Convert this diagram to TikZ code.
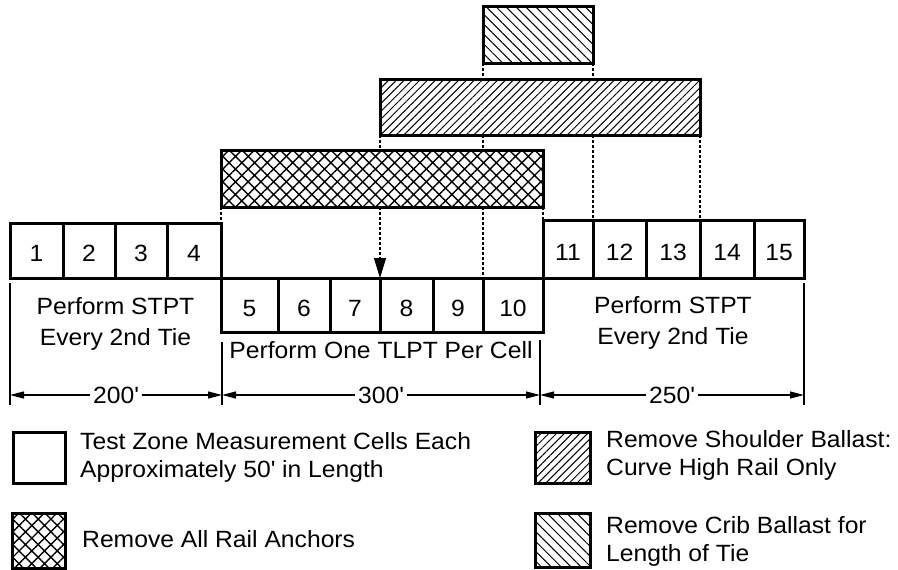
\documentclass[tikz,border=0pt]{standalone}
\usepackage{fontspec}
\setmainfont{Liberation Sans}[FakeStretch=1.05]
\usetikzlibrary{arrows.meta,positioning,patterns.meta}
\newcommand{\feet}{\textquotesingle}

\begin{document}
\begin{tikzpicture}[
  x=1pt, y=-1pt,
  font=\fontsize{23.5pt}{31pt}\selectfont,
  cell/.style={draw, line width=3pt, inner sep=0pt, outer sep=0pt, text height=22pt, text depth=0pt},
  zone/.style={draw, line width=3pt, inner sep=0pt, outer sep=0pt},
  shoulderfill/.style={pattern={Lines[angle=45,distance=5.5pt,line width=1pt]}},
  cribfill/.style={pattern={Lines[angle=-45,distance=7pt,line width=1pt]}},
  anchorfill/.style={pattern={Hatch[angle=45,distance=9pt,line width=1.4pt]}},
  guide/.style={line width=1.2pt, dash pattern=on 3pt off 2pt},
  ext/.style={line width=1.2pt},
  dim/.style={line width=1.2pt, {Triangle[length=14pt,width=7pt]}-{Triangle[length=14pt,width=7pt]}},
  dimlbl/.style={fill=white, inner sep=3pt},
  key/.style={anchor=west, align=left, inner sep=0pt, font=\fontsize{23.5pt}{28pt}\selectfont}
]
\useasboundingbox (0,0) rectangle (898,570);

% removal zones
\node[zone, cribfill, minimum width=110pt, minimum height=57pt] (crib) at (538,34.5) {};
\node[zone, shoulderfill, minimum width=320pt, minimum height=56pt] (shoulder) at (540,107) {};
\node[zone, anchorfill, minimum width=322pt, minimum height=57pt] (anchors) at (382,178.5) {};

% measurement cells
\node[cell, minimum width=53pt, minimum height=55pt] (c1) at (36.5,250.5) {1};
\node[cell, minimum width=52pt, minimum height=55pt, right=0pt of c1] (c2) {2};
\node[cell, minimum width=52pt, minimum height=55pt, right=0pt of c2] (c3) {3};
\node[cell, minimum width=54pt, minimum height=55pt, right=0pt of c3] (c4) {4};

\node[cell, minimum width=57pt, minimum height=54pt] (c5) at (249.5,305) {5};
\node[cell, minimum width=52pt, minimum height=54pt, right=0pt of c5] (c6) {6};
\node[cell, minimum width=50pt, minimum height=54pt, right=0pt of c6] (c7) {7};
\node[cell, minimum width=53pt, minimum height=54pt, right=0pt of c7] (c8) {8};
\node[cell, minimum width=50pt, minimum height=54pt, right=0pt of c8] (c9) {9};
\node[cell, minimum width=60pt, minimum height=54pt, right=0pt of c9] (c10) {10};

\node[cell, minimum width=50pt, minimum height=58pt] (c11) at (568,249) {11};
\node[cell, minimum width=53pt, minimum height=58pt, right=0pt of c11] (c12) {12};
\node[cell, minimum width=54pt, minimum height=58pt, right=0pt of c12] (c13) {13};
\node[cell, minimum width=54pt, minimum height=58pt, right=0pt of c13] (c14) {14};
\node[cell, minimum width=50pt, minimum height=58pt, right=0pt of c14] (c15) {15};

% projection lines
\draw[guide] (crib.south west) -- (crib.south west |- shoulder.north);
\draw[guide] (crib.south east) -- (crib.south east |- shoulder.north);
\draw[guide] (shoulder.south west) -- (shoulder.south west |- anchors.north);
\draw[guide] (crib.south west |- shoulder.south) -- (crib.south west |- anchors.north);
\draw[guide] (crib.south east |- shoulder.south) -- (c12.north west);
\draw[guide] (shoulder.south east) -- (c14.north west);
\draw[guide] (anchors.south west) -- (c4.north east);
\draw[guide] (anchors.south east) -- (c11.north west);
\draw[guide] (crib.south west |- anchors.south) -- (c10.north west);
\draw[guide, -{Triangle[length=20pt,width=12pt]}] (shoulder.south west |- anchors.south) -- (c8.north west);

% test descriptions
\node[align=center] (stptl) at (115.5,324) {Perform STPT\\Every 2nd Tie};
\node[align=center] (stptr) at (673,323) {Perform STPT\\Every 2nd Tie};
\node (tlpt) at (381,350.5) {Perform One TLPT Per Cell};

% dimensions
\coordinate (e0t) at (10,283);  \coordinate (e0b) at (10,405);
\coordinate (e1t) at (222,342); \coordinate (e1b) at (222,405);
\coordinate (e2t) at (540,340); \coordinate (e2b) at (540,405);
\coordinate (e3t) at (804,283); \coordinate (e3b) at (804,405);
\draw[ext] (e0t) -- (e0b);
\draw[ext] (e1t) -- (e1b);
\draw[ext] (e2t) -- (e2b);
\draw[ext] (e3t) -- (e3b);
\coordinate (m0) at (10,395);
\coordinate (m1) at (222,395);
\coordinate (m2) at (540,395);
\coordinate (m3) at (804,395);
\draw[dim] (m0) -- node[dimlbl] (len1) {200\feet} (m1);
\draw[dim] (m1) -- node[dimlbl] (len2) {300\feet} (m2);
\draw[dim] (m2) -- node[dimlbl] (len3) {250\feet} (m3);

% legend
\node[zone, minimum width=52pt, minimum height=51pt] (kcell) at (39,457.5) {};
\node[key] (kcelltxt) at (80,457) {Test Zone Measurement Cells Each\\Approximately 50\feet{} in Length};
\node[zone, anchorfill, minimum width=53pt, minimum height=55pt] (kanchor) at (38.5,540.5) {};
\node[key] (kanchortxt) at (82,539) {Remove All Rail Anchors};
\node[zone, shoulderfill, minimum width=55pt, minimum height=51pt] (kshoulder) at (562.5,457.5) {};
\node[key] (kshouldertxt) at (606,455.5) {Remove Shoulder Ballast:\\Curve High Rail Only};
\node[zone, cribfill, minimum width=55pt, minimum height=54pt] (kcrib) at (562.5,540) {};
\node[key] (kcribtxt) at (606,541) {Remove Crib Ballast for\\Length of Tie};
\end{tikzpicture}
\end{document}
